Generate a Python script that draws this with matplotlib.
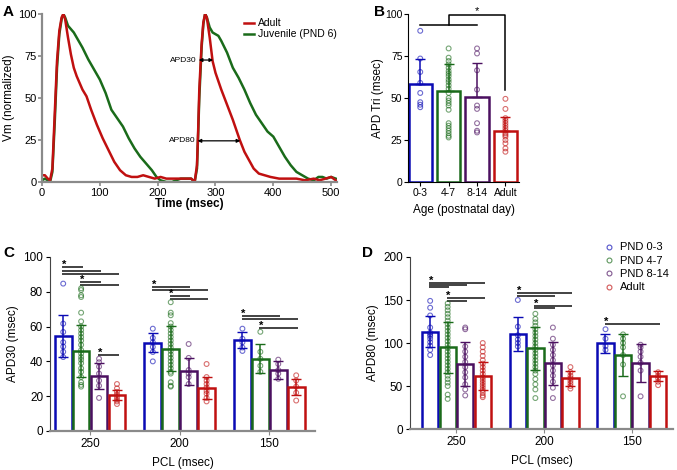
import numpy as np
import matplotlib.pyplot as plt
import matplotlib

matplotlib.rcParams['font.family'] = ['Liberation Sans', 'DejaVu Sans']

blue, green, purple, red = '#0a0ab4', '#1a6b1a', '#4b1060', '#c01010'
colors = [blue, green, purple, red]

# ---- A: action potential traces (time msec, Vm normalized)
t_adult = [0, 5, 10, 14, 18, 22, 26, 30, 34, 37, 40, 45, 50, 55, 60, 65, 70, 77, 85, 95, 105, 115, 125, 135, 145,
           155, 165, 175, 185, 195, 205, 215, 230, 245, 258, 264, 268, 270, 272, 276, 279, 282, 285, 290, 295, 300,
           305, 310, 320, 330, 342, 350, 358, 366, 375, 385, 395, 410, 425, 440, 455, 470, 480, 490, 500, 508]
v_adult = [4, 4, 2, 1, 8, 40, 72, 90, 98, 100, 97, 86, 76, 68, 63, 59, 55, 51, 43, 34, 26, 19, 12, 7, 4,
           3, 3, 4, 3, 2, 3, 2, 2, 2, 2, 0, 10, 30, 55, 82, 95, 100, 98, 86, 72, 65,
           60, 55, 46, 37, 25, 18, 13, 8, 5, 4, 3, 2, 2, 2, 1, 2, 1, 2, 3, 1]
t_juv = [0, 5, 10, 14, 18, 22, 26, 30, 34, 37, 40, 45, 50, 55, 60, 70, 80, 90, 100, 110, 120, 130, 140, 150, 160,
         170, 180, 190, 198, 205, 215, 225, 232, 240, 250, 258, 264, 268, 270, 272, 276, 279, 282, 285, 290, 295,
         300, 305, 310, 320, 330, 340, 350, 360, 370, 380, 390, 400, 410, 420, 430, 440, 450, 460, 470, 478, 485,
         492, 500, 508]
v_juv = [1, 2, 1, 0, 6, 35, 68, 88, 97, 100, 98, 93, 91, 89, 86, 80, 73, 67, 61, 53, 43, 38, 33, 26, 20,
         15, 11, 7, 3, 1, 0, 0, 1, 2, 2, 2, 0, 8, 28, 50, 80, 94, 100, 98, 92, 89,
         88, 87, 84, 77, 68, 62, 55, 47, 40, 35, 30, 27, 21, 15, 10, 6, 4, 2, 1, 3, 3,
         2, 3, 2]

# ---- B: APD triangulation by age
ages = ['0-3', '4-7', '8-14', 'Adult']
tri_mean = [58.5, 54.3, 50.7, 30.4]
tri_sd = [15.0, 16.0, 20.0, 8.4]
tri_pts = [[90, 73.5, 65.5, 59, 53, 47.5, 46, 44.5],
           [79.5, 74, 72, 70, 68, 66, 64.5, 63, 61, 59.5, 57.5, 55.5, 53, 50, 48.5, 47, 45.5, 43,
            35, 33.5, 32, 30.5, 29, 27.5, 26.5],
           [79.5, 76.5, 66.5, 55, 45.5, 43.5, 35, 30.5, 29.5],
           [49.5, 43.5, 38, 36.5, 35, 33.5, 32, 30.5, 29, 28, 27, 25, 23, 20, 18]]

# ---- C / D: APD30 and APD80 by pacing cycle length
pcl = ['250', '200', '150']
groups = ['PND 0-3', 'PND 4-7', 'PND 8-14', 'Adult']

apd30_mean = [[54.6, 46.0, 31.4, 20.5], [50.8, 47.3, 34.3, 24.7], [52.1, 41.6, 35.2, 25.3]]
apd30_sd = [[12.2, 15.2, 7.5, 2.9], [5.3, 12.9, 7.9, 6.2], [4.6, 8.2, 5.3, 4.8]]
apd30_pts = [
    [[84.7, 61.7, 56.9, 51, 48.5, 45.5, 42.5],
     [82, 81, 78, 77, 68, 63, 60, 58, 56, 54, 52, 49.5, 46.5, 44.5, 42.5, 41, 39, 36, 34, 31, 28, 26.5, 25.5],
     [41.5, 39.5, 37, 33, 29, 26, 19],
     [27, 24.5, 22.5, 21, 19.5, 18, 17, 15.5]],
    [[58.8, 53.5, 51, 48.3, 45.4, 40],
     [74, 68, 66.5, 62, 60, 58, 56, 54, 52, 50, 48, 46, 44, 42, 40, 38, 36, 34, 33, 28, 26, 25.5],
     [50, 42, 35, 33, 31, 27],
     [38.5, 31, 29, 27, 25, 23, 21.5, 19, 17]],
    [[58.8, 53, 51, 48, 46],
     [57, 45.5, 41.5, 37.5, 34],
     [41, 38.5, 35, 33, 30],
     [32, 29, 25.5, 22, 17.5]]]

apd80_mean = [[113, 95, 75.5, 61.5], [110.5, 93.8, 76.3, 58.8], [99.6, 86, 77, 61.5]]
apd80_sd = [[17.9, 30, 25.3, 16.3], [19.5, 25.3, 25.3, 8.5], [11.2, 24, 22, 6.2]]
apd80_pts = [
    [[149, 141, 132, 118, 112, 110, 108, 105, 101, 97, 92, 86],
     [146, 142, 138, 134, 130, 126, 122, 118, 114, 110, 106, 102, 98, 94, 90, 86, 82, 78, 74, 70, 66, 62,
      58, 54, 50, 40, 35],
     [118, 116, 96, 90, 84, 78, 72, 66, 60, 52, 46, 39],
     [100, 95, 90, 85, 80, 76, 72, 68, 64, 60, 57, 54, 51, 48, 45, 42, 39, 37]],
    [[150, 119, 109, 104, 100, 96],
     [134, 128, 124, 120, 116, 112, 108, 104, 100, 96, 92, 88, 84, 80, 76, 72, 68, 64, 58, 52, 46, 36],
     [118, 105, 98, 92, 86, 80, 74, 68, 62, 55, 48, 36],
     [72, 66, 62, 59, 56, 53, 50, 47]],
    [[116, 105, 96.5, 92],
     [110, 105, 100, 95, 86, 75, 38],
     [98, 95, 90, 84, 77, 68, 38],
     [66, 62, 59, 55, 51]]]

# significance bars: (pcl group, from bar, to bar, height) and stars (group, bar, height)
apd30_sig = [(0, 0, 1, 94.1), (0, 0, 2, 92.1), (0, 0, 3, 90.2), (0, 1, 2, 85.4), (0, 1, 3, 83.9), (0, 2, 3, 43.6),
             (1, 0, 2, 82.6), (1, 0, 3, 81.2), (1, 1, 2, 77.4), (1, 1, 3, 75.8),
             (2, 0, 2, 66.1), (2, 0, 3, 64.2), (2, 1, 3, 59.0)]
apd30_star = [(0, 0, 95.5), (0, 1, 86.8), (0, 2, 45.0), (1, 0, 84.0), (1, 1, 78.8), (2, 0, 67.5), (2, 1, 60.4)]
apd80_sig = [(0, 0, 3, 169.4), (0, 0, 2, 167.1), (0, 0, 1, 164.8), (0, 1, 3, 152.7), (0, 1, 2, 149.2),
             (1, 0, 3, 157.8), (1, 0, 2, 155.0), (1, 1, 3, 143.0), (1, 1, 2, 140.3),
             (2, 0, 3, 122.0)]
apd80_star = [(0, 0, 172.0), (0, 1, 155.5), (1, 0, 160.5), (1, 1, 145.8), (2, 0, 124.8)]

fig = plt.figure(figsize=(6.77, 4.70), dpi=100)

# ---------------- A
axA = fig.add_axes([0.062, 0.6128, 0.4357, 0.3574])
lj, = axA.plot(t_juv, v_juv, color=green, lw=1.8)
la, = axA.plot(t_adult, v_adult, color=red, lw=1.8)
axA.set_xlim(0, 510)
axA.set_ylim(0, 100)
axA.set_yticks([0, 25, 50, 75, 100])
axA.set_xticks([0, 100, 200, 300, 400, 500])
axA.annotate('', xy=(296, 72.6), xytext=(271, 72.6),
             arrowprops=dict(arrowstyle='<|-|>', color='k', lw=0.9, mutation_scale=5, shrinkA=0, shrinkB=0))
axA.annotate('', xy=(343, 24.5), xytext=(269, 24.5),
             arrowprops=dict(arrowstyle='<|-|>', color='k', lw=0.9, mutation_scale=5, shrinkA=0, shrinkB=0))
axA.text(268, 72.6, 'APD30', fontsize=6, ha='right', va='center')
axA.text(266, 24.5, 'APD80', fontsize=6, ha='right', va='center')
axA.set_ylabel('Vm (normalized)', fontsize=8.5, labelpad=2)
axA.set_xlabel('Time (msec)', fontsize=8.5, fontweight='bold', labelpad=0.5)
axA.legend([la, lj], ['Adult', 'Juvenile (PND 6)'], loc='upper left', bbox_to_anchor=(0.67, 1.0),
           frameon=False, fontsize=7.5, handlelength=1.0, handletextpad=0.4, labelspacing=0.1, borderaxespad=0)
for s in ['top', 'right']:
    axA.spines[s].set_visible(False)
for s in ['left', 'bottom']:
    axA.spines[s].set_color('#8a8a8a')
    axA.spines[s].set_linewidth(1.6)
axA.tick_params(labelsize=8, color='#8a8a8a', width=1.2, length=3, pad=1)

# ---------------- B
axB = fig.add_axes([0.6027, 0.6128, 0.164, 0.3574])
xb = np.arange(len(ages))
for i in range(4):
    axB.bar(xb[i], tri_mean[i], 0.82, color='white', edgecolor=colors[i], linewidth=1.8, zorder=2)
    axB.errorbar(xb[i], tri_mean[i], yerr=[[0], [tri_sd[i]]], color=colors[i], capsize=3.5, lw=1.1, zorder=4)
    axB.scatter([xb[i]] * len(tri_pts[i]), tri_pts[i], s=12, facecolors='none', edgecolors=colors[i],
                alpha=0.6, linewidths=0.8, zorder=3)
axB.plot([0, 2], [93.4, 93.4], color='k', lw=1.1, clip_on=False)
axB.plot([1, 1, 3, 3], [93.4, 99.4, 99.4, 54.7], color='k', lw=1.1, clip_on=False)
axB.text(2.0, 99.0, '*', fontsize=8, ha='center', va='bottom')
axB.set_xlim(-0.43, 3.48)
axB.set_ylim(0, 100)
axB.set_yticks([0, 25, 50, 75, 100])
axB.set_xticks(xb)
axB.set_xticklabels(ages)
axB.set_ylabel('APD Tri (msec)', fontsize=8.5, labelpad=1)
axB.set_xlabel('Age (postnatal day)', fontsize=8.5, labelpad=5)
for s in ['top', 'right']:
    axB.spines[s].set_visible(False)
axB.tick_params(labelsize=7.5, length=3, pad=1)


def grouped(ax, means, sds, pts, sig, star, ystep):
    w = 0.2
    for g in range(3):
        for i in range(4):
            x = g + (i - 1.5) * w
            ax.bar(x, means[g][i], w * 0.93, color='white', edgecolor=colors[i], linewidth=1.8, zorder=2)
            ax.errorbar(x, means[g][i], yerr=sds[g][i], color=colors[i], capsize=3.5, lw=1.1, zorder=4)
            ax.scatter([x] * len(pts[g][i]), pts[g][i], s=12, facecolors='none', edgecolors=colors[i],
                       alpha=0.6, linewidths=0.8, zorder=3)
    for g, i, j, y in sig:
        ax.plot([g + (i - 1.5) * w - 0.01, g + (j - 1.5) * w + 0.02], [y, y], color='#222222', lw=1.2,
                solid_capstyle='butt')
    for g, i, y in star:
        ax.text(g + (i - 1.5) * w + 0.01, y - 2 * ystep, '*', fontsize=8, fontweight='bold',
                ha='center', va='bottom')
    ax.set_xticks([0, 1, 2])
    ax.set_xticklabels(pcl)
    for s in ['top', 'right']:
        ax.spines[s].set_visible(False)
    ax.spines['left'].set_color('#444444')
    ax.spines['bottom'].set_color('#8a8a8a')
    ax.spines['bottom'].set_linewidth(1.6)
    ax.tick_params(labelsize=8.5, length=3, pad=2)
    ax.tick_params(axis='x', color='#8a8a8a')
    ax.set_xlabel('PCL (msec)', fontsize=8.5, labelpad=5)


# ---------------- C
axC = fig.add_axes([0.0739, 0.0830, 0.3914, 0.3702])
grouped(axC, apd30_mean, apd30_sd, apd30_pts, apd30_sig, apd30_star, 1.5)
axC.set_xlim(-0.447, 2.51)
axC.set_ylim(0, 100)
axC.set_yticks([0, 20, 40, 60, 80, 100])
axC.set_ylabel('APD30 (msec)', fontsize=8.5, labelpad=3)

# ---------------- D
axD = fig.add_axes([0.6056, 0.0872, 0.3885, 0.366])
grouped(axD, apd80_mean, apd80_sd, apd80_pts, apd80_sig, apd80_star, 3.0)
axD.set_xlim(-0.53, 2.47)
axD.set_ylim(0, 200)
axD.set_yticks([0, 50, 100, 150, 200])
axD.set_ylabel('APD80 (msec)', fontsize=8.5, labelpad=3)
handles = [plt.Line2D([], [], ls='none', marker='o', ms=3.5, mfc='none', mec=c, alpha=0.7, mew=0.8)
           for c in colors]
fig.legend(handles, groups, loc='upper left', bbox_to_anchor=(598 / 677, 1 - 238 / 470), frameon=False,
           fontsize=8, handlelength=1.2, handletextpad=0.4, labelspacing=0.3, borderaxespad=0)

for lab, x, y in [('A', 3, 12), ('B', 374, 12), ('C', 3, 253), ('D', 362, 253)]:
    fig.text(x / 677, 1 - y / 470, lab, fontsize=11, fontweight='bold', va='center')

fig.savefig('out.png', dpi=100)
